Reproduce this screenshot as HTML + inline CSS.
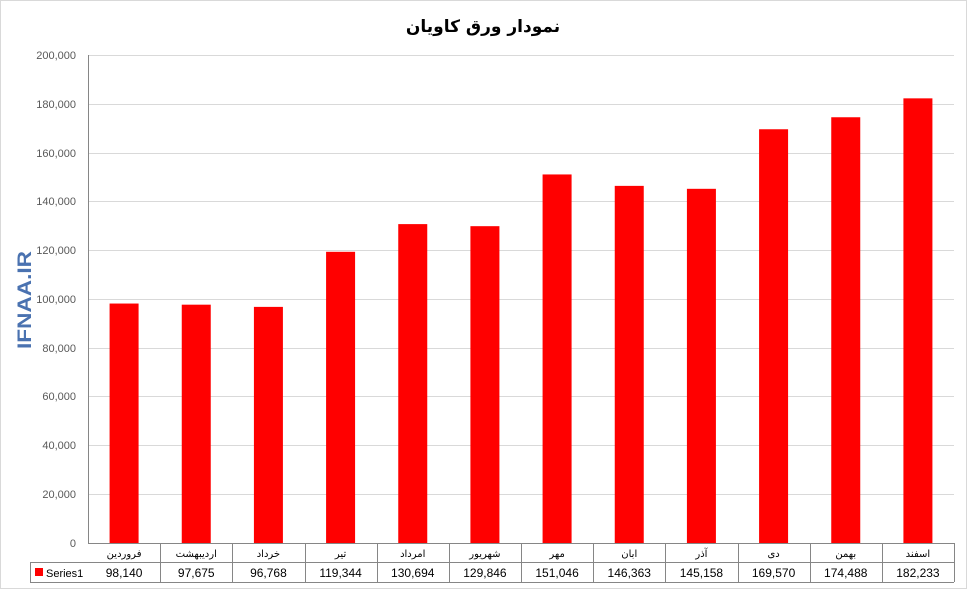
<!DOCTYPE html>
<html><head><meta charset="utf-8"><style>
html,body{margin:0;padding:0;background:#fff;}
svg{display:block;font-family:"Liberation Sans","DejaVu Sans",sans-serif;}
</style></head><body>
<svg width="968" height="591" viewBox="0 0 968 591" xmlns="http://www.w3.org/2000/svg">
<rect x="0.5" y="0.5" width="966" height="588" fill="#fff" stroke="#d9d9d9"/>
<text x="483" y="32" text-anchor="middle" font-size="17" font-weight="bold" font-family="'DejaVu Sans',sans-serif" direction="rtl">نمودار ورق کاویان</text>
<text transform="translate(31,300) rotate(-90)" text-anchor="middle" font-size="19" font-weight="bold" fill="#4a72b0" textLength="98" lengthAdjust="spacingAndGlyphs">IFNAA.IR</text>
<g stroke="#d9d9d9" stroke-width="1">
<line x1="88" x2="954" y1="55.5" y2="55.5"/>
<line x1="88" x2="954" y1="104.5" y2="104.5"/>
<line x1="88" x2="954" y1="153.5" y2="153.5"/>
<line x1="88" x2="954" y1="201.5" y2="201.5"/>
<line x1="88" x2="954" y1="250.5" y2="250.5"/>
<line x1="88" x2="954" y1="299.5" y2="299.5"/>
<line x1="88" x2="954" y1="348.5" y2="348.5"/>
<line x1="88" x2="954" y1="396.5" y2="396.5"/>
<line x1="88" x2="954" y1="445.5" y2="445.5"/>
<line x1="88" x2="954" y1="494.5" y2="494.5"/>
</g>
<g font-size="11" fill="#595959" text-anchor="end">
<text x="76" y="59">200,000</text><text x="76" y="108">180,000</text><text x="76" y="157">160,000</text>
<text x="76" y="205">140,000</text><text x="76" y="254">120,000</text><text x="76" y="303">100,000</text>
<text x="76" y="352">80,000</text><text x="76" y="400">60,000</text><text x="76" y="449">40,000</text>
<text x="76" y="498">20,000</text><text x="76" y="547">0</text>
</g>
<g fill="#ff0000" id="bars"></g>
<g stroke="#868686" stroke-width="1" fill="none" id="tbl"></g>
<g font-size="12" fill="#000" text-anchor="middle" id="txt"></g>
<line x1="88.5" y1="55" x2="88.5" y2="543" stroke="#868686"/>
<line x1="88" y1="543.5" x2="954" y2="543.5" stroke="#868686"/>
<script>
var names=["فروردین","اردیبهشت","خرداد","تیر","امرداد","شهریور","مهر","ابان","آذر","دی","بهمن","اسفند"];
var vals=[98140,97675,96768,119344,130694,129846,151046,146363,145158,169570,174488,182233];
var ns="http://www.w3.org/2000/svg";
function el(t,a,p,txt){var e=document.createElementNS(ns,t);for(var k in a)e.setAttribute(k,a[k]);if(txt)e.textContent=txt;document.getElementById(p).appendChild(e);}
var x0=88,w=(954-88)/12;
for(var i=0;i<12;i++){
 var cx=x0+w*(i+0.5),h=vals[i]/200000*488;
 el("rect",{x:cx-14.5,y:543-h,width:29,height:h},"bars");
 el("line",{x1:Math.round(x0+w*(i+1))+0.5,y1:543,x2:Math.round(x0+w*(i+1))+0.5,y2:582},"tbl");
 el("text",{x:cx,y:557,"font-size":"10"},"txt",names[i]);
 el("text",{x:cx,y:577},"txt",vals[i].toLocaleString("en-US"));
}
el("line",{x1:30,y1:562.5,x2:954,y2:562.5},"tbl");
el("line",{x1:30,y1:582.5,x2:954,y2:582.5},"tbl");
el("line",{x1:30.5,y1:562,x2:30.5,y2:582},"tbl");
el("rect",{x:35,y:568,width:8,height:8,fill:"#ff0000"},"bars");
el("text",{x:46,y:577,"text-anchor":"start","font-size":"11"},"txt","Series1");
</script>
</svg>
</body></html>
